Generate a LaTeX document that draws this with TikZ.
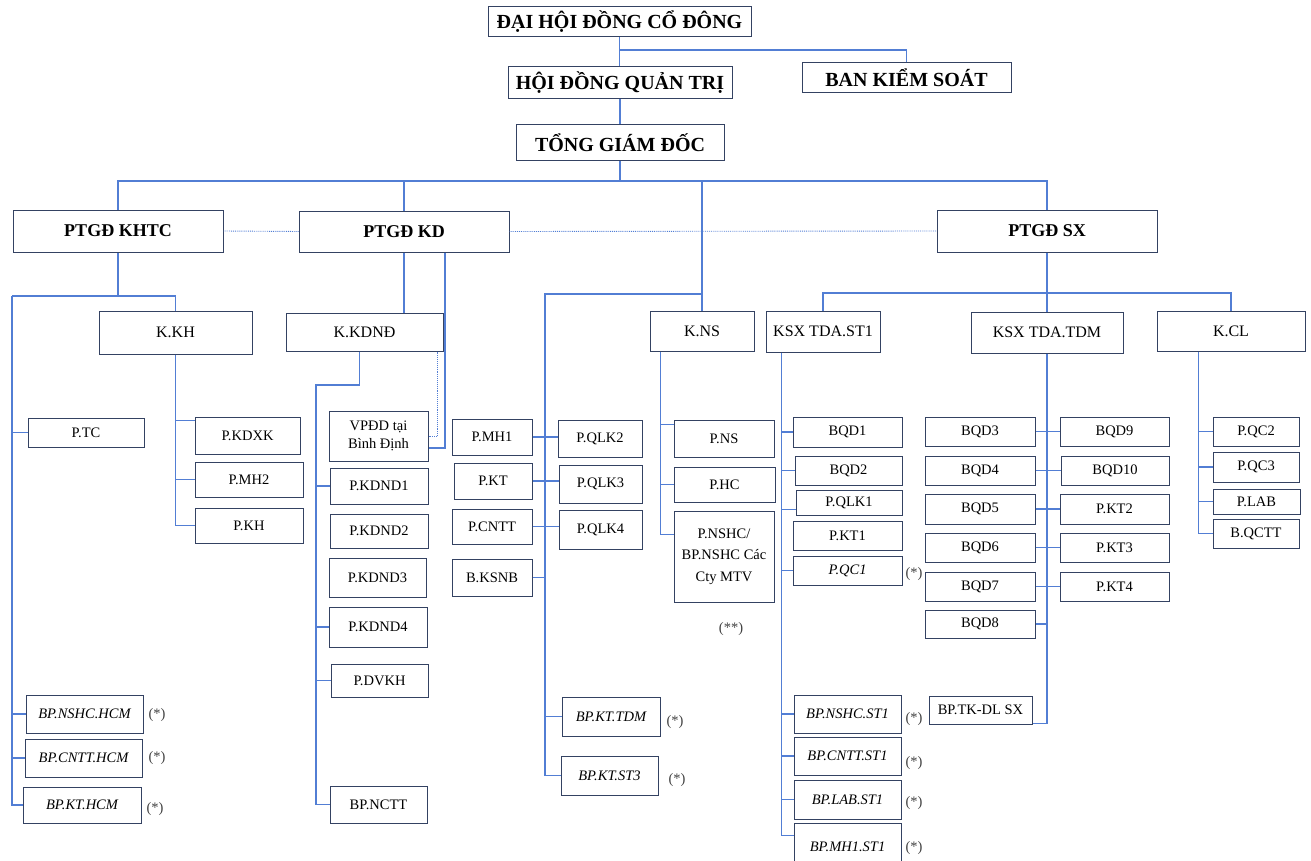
\documentclass[tikz,border=0pt]{standalone}
\usepackage{fontspec}
\setmainfont{Liberation Serif}
\usetikzlibrary{positioning,calc}
\definecolor{lnblue}{RGB}{82,126,212}
\definecolor{bxedge}{RGB}{52,66,98}

\begin{document}
\begin{tikzpicture}[
    x=1pt, y=-1pt,
    box/.style={draw=bxedge, line width=1pt, fill=white, align=center,
                inner sep=1pt, text=black},
    sz/.style 2 args={minimum width=#1pt, minimum height=#2pt},
    head/.style={box, font=\fontsize{20}{22}\selectfont\bfseries},
    dep/.style={box, font=\fontsize{18}{20}\selectfont\bfseries},
    khoi/.style={box, font=\fontsize{16}{18}\selectfont},
    phong/.style={box, font=\fontsize{14.5}{17.5}\selectfont},
    bpit/.style={box, font=\fontsize{14.5}{17.5}\selectfont\itshape},
    ln/.style={draw=lnblue, line width=1.1pt},
    dln/.style={draw=lnblue, line width=0.9pt, densely dotted},
    star/.style={font=\fontsize{14.5}{17}\selectfont, text=black!75, inner sep=0pt},
  ]
  \useasboundingbox (0,0) rectangle (1311,861);
  \clip (0,0) rectangle (1311,861);

  % ============ Cap lanh dao ============
  \node[head, sz={263}{30}] (dhcd) at (619.5,22) {ĐẠI HỘI ĐỒNG CỔ ĐÔNG};
  \node[head, sz={224}{32}] (hdqt) at (620,83) {HỘI ĐỒNG QUẢN TRỊ};
  \node[head, sz={209}{30}] (bks) at (906.5,78) {BAN KIỂM SOÁT};
  \node[head, sz={208}{36}] (tgd) at (620,143) {TỔNG GIÁM ĐỐC};

  \node[dep, sz={210}{42}] (khtc) at (118,231) {PTGĐ KHTC};
  \node[dep, sz={210}{41}] (kd) at (404,231.5) {PTGĐ KD};
  \node[dep, sz={220}{42}] (sx) at (1047,231) {PTGĐ SX};

  % ============ Cac khoi ============
  \node[khoi, sz={153}{43}] (kkh) at (175.5,332.5) {K.KH};
  \node[khoi, sz={157}{38}] (kkdnd) at (364.5,332) {K.KDNĐ};
  \node[khoi, sz={104}{40}] (kns) at (702,331) {K.NS};
  \node[khoi, sz={114}{41}] (kst1) at (823,331.5) {KSX TDA.ST1};
  \node[khoi, sz={152}{41}] (ktdm) at (1047,332.5) {KSX TDA.TDM};
  \node[khoi, sz={148}{40}] (kcl) at (1231,331) {K.CL};

  % ============ Khoi KH ============
  \node[phong, sz={116}{29}] (ptc) at (86,432.5) {P.TC};
  \node[phong, sz={105}{37}] (pkdxk) at (247.5,435.5) {P.KDXK};
  \node[phong, sz={108}{35}] (pmh2) at (249,479.5) {P.MH2};
  \node[phong, sz={108}{35}] (pkh) at (249,525.5) {P.KH};
  \node[bpit, sz={117}{38}] (nshcHCM) at (84.5,714) {BP.NSHC.HCM};
  \node[bpit, sz={117}{38}] (cnttHCM) at (83.5,758) {BP.CNTT.HCM};
  \node[bpit, sz={118}{36}] (ktHCM) at (82,805) {BP.KT.HCM};
  \node[star] at (157,715) {(*)};
  \node[star] at (157,758) {(*)};
  \node[star] at (155,809) {(*)};

  % ============ Khoi KDND ============
  \node[phong, sz={99}{50}] (vpdd) at (378.5,436) {VPĐD tại\\Bình Định};
  \node[phong, sz={98}{36}] (kdnd1) at (379,486) {P.KDND1};
  \node[phong, sz={98}{34}] (kdnd2) at (379,531) {P.KDND2};
  \node[phong, sz={97}{39}] (kdnd3) at (377.5,577.5) {P.KDND3};
  \node[phong, sz={98}{40}] (kdnd4) at (378,627) {P.KDND4};
  \node[phong, sz={97}{33}] (dvkh) at (379.5,680.5) {P.DVKH};
  \node[phong, sz={97}{37}] (bpnctt) at (378.5,804.5) {BP.NCTT};

  % ============ Truc thuoc TGD ============
  \node[phong, sz={80}{36}] (pmh1) at (492,437) {P.MH1};
  \node[phong, sz={78}{36}] (pkt) at (493,481) {P.KT};
  \node[phong, sz={80}{35}] (pcntt) at (492,526.5) {P.CNTT};
  \node[phong, sz={80}{37}] (bksnb) at (492,577.5) {B.KSNB};
  \node[phong, sz={84}{37}] (qlk2) at (600,438.5) {P.QLK2};
  \node[phong, sz={83}{38}] (qlk3) at (600.5,484) {P.QLK3};
  \node[phong, sz={83}{39}] (qlk4) at (600.5,529.5) {P.QLK4};
  \node[bpit, sz={98}{39}] (ktTDM) at (611,716.5) {BP.KT.TDM};
  \node[bpit, sz={97}{39}] (ktST3) at (609.5,775.5) {BP.KT.ST3};
  \node[star] at (675,722) {(*)};
  \node[star] at (677,780) {(*)};

  % ============ Khoi NS ============
  \node[phong, sz={100}{37}] (pns) at (724,438.5) {P.NS};
  \node[phong, sz={101}{35}] (phc) at (724.5,484.5) {P.HC};
  \node[phong, sz={100}{91}, font=\fontsize{14.5}{21.5}\selectfont] (pnshc) at (724,556.5)
        {P.NSHC/\\BP.NSHC Các\\Cty MTV};
  \node[star] at (731,629) {(**)};

  % ============ Khoi SX ST1 ============
  \node[phong, sz={109}{30}] (bqd1) at (847.5,432) {BQD1};
  \node[phong, sz={107}{29}] (bqd2) at (848.5,470.5) {BQD2};
  \node[phong, sz={106}{25}] (pqlk1) at (849,502.5) {P.QLK1};
  \node[phong, sz={109}{29}] (pkt1) at (847.5,535.5) {P.KT1};
  \node[bpit, sz={109}{29}] (pqc1) at (847.5,570.5) {P.QC1};
  \node[bpit, sz={107}{38}] (nshcST1) at (847.5,714) {BP.NSHC.ST1};
  \node[bpit, sz={107}{38}] (cnttST1) at (847.5,756) {BP.CNTT.ST1};
  \node[bpit, sz={107}{39}] (labST1) at (847.5,799.5) {BP.LAB.ST1};
  \node[bpit, sz={107}{47}] (mh1ST1) at (847.5,846.5) {BP.MH1.ST1};
  \node[star] at (914,574) {(*)};
  \node[star] at (914,719) {(*)};
  \node[star] at (914,763) {(*)};
  \node[star] at (914,803) {(*)};
  \node[star] at (914,848) {(*)};

  % ============ Khoi SX TDM ============
  \node[phong, sz={110}{29}] (bqd3) at (980,431.5) {BQD3};
  \node[phong, sz={110}{29}] (bqd4) at (980,470.5) {BQD4};
  \node[phong, sz={110}{30}] (bqd5) at (980,509) {BQD5};
  \node[phong, sz={110}{29}] (bqd6) at (980,547.5) {BQD6};
  \node[phong, sz={110}{29}] (bqd7) at (980,586.5) {BQD7};
  \node[phong, sz={110}{28}] (bqd8) at (980,624) {BQD8};
  \node[phong, sz={109}{29}] (bqd9) at (1114.5,431.5) {BQD9};
  \node[phong, sz={108}{29}] (bqd10) at (1115,470.5) {BQD10};
  \node[phong, sz={109}{30}] (pkt2) at (1114.5,509) {P.KT2};
  \node[phong, sz={109}{29}] (pkt3) at (1114.5,547.5) {P.KT3};
  \node[phong, sz={109}{29}] (pkt4) at (1114.5,586.5) {P.KT4};
  \node[phong, sz={103}{28}] (tkdl) at (980.5,710) {BP.TK-DL SX};

  % ============ Khoi CL ============
  \node[phong, sz={86}{29}] (pqc2) at (1256,431.5) {P.QC2};
  \node[phong, sz={86}{30}] (pqc3) at (1256,467) {P.QC3};
  \node[phong, sz={87}{25}] (plab) at (1256.5,501.5) {P.LAB};
  \node[phong, sz={86}{29}] (bqctt) at (1256,533.5) {B.QCTT};

  % ============ Duong noi cap tren ============
  \coordinate (jBKS) at (620,50);
  \coordinate (jTGD) at (620,181);
  \draw[ln] (dhcd.south) -- (dhcd.south |- hdqt.north);
  \draw[ln] (jBKS) -| (bks.north);
  \draw[ln] (hdqt.south) -- (tgd.north);
  \draw[ln] (tgd.south) -- (jTGD);
  \draw[ln] (khtc.north) |- (jTGD) -| (sx.north);
  \draw[ln] (kd.north) -- (kd.north |- jTGD);
  \draw[ln] (kns.north |- jTGD) -- (kns.north);
  \draw[dln] (khtc.east) -- (kd.west);
  \draw[dln] (kd.east) -- (sx.west);

  % ============ Nhanh KHTC ============
  \coordinate (jKH) at (12,296);
  \draw[ln] (khtc.south) -- (khtc.south |- jKH);
  \draw[ln] (jKH) -| (kkh.north);
  \draw[ln] (jKH) |- (ktHCM.west);
  \draw[ln] (jKH |- ptc.west) -- (ptc.west);
  \draw[ln] (jKH |- nshcHCM.west) -- (nshcHCM.west);
  \draw[ln] (jKH |- cnttHCM.west) -- (cnttHCM.west);
  \coordinate (tKDXK) at ([yshift=-4pt]pkdxk.north west);
  \draw[ln] (kkh.south) |- (pkh.west);
  \draw[ln] (kkh.south |- tKDXK) -- (tKDXK);
  \draw[ln] (kkh.south |- pmh2.west) -- (pmh2.west);

  % ============ Nhanh KD ============
  \coordinate (kdR) at ([xshift=41pt]kd.south);
  \coordinate (tVP) at ([yshift=-12pt]vpdd.east);
  \coordinate (jKD) at (316,385);
  \draw[ln] (kd.south) -- (kd.south |- kkdnd.north);
  \draw[ln] (kdR) |- (tVP);
  \draw[dln] ([xshift=-6pt]kkdnd.south east) |- (vpdd.east);
  \draw[ln] ([xshift=-5pt]kkdnd.south) |- (jKD) |- (bpnctt.west);
  \draw[ln] (jKD |- kdnd1.west) -- (kdnd1.west);
  \draw[ln] (jKD |- kdnd4.west) -- (kdnd4.west);
  \draw[ln] (jKD |- dvkh.west) -- (dvkh.west);

  % ============ Truc thuoc TGD ============
  \coordinate (jNS) at (545,294);
  \draw[ln] (kns.north |- jNS) -- (jNS) |- (ktST3.west);
  \draw[ln] (pmh1.east) -- (pmh1.east -| qlk2.west);
  \draw[ln] (pkt.east) -- (pkt.east -| qlk3.west);
  \draw[ln] (pcntt.east) -- (pcntt.east -| qlk4.west);
  \draw[ln] (bksnb.east) -- (bksnb.east -| jNS);
  \draw[ln] (jNS |- ktTDM.west) -- (ktTDM.west);

  \coordinate (kNSl) at ([xshift=11pt]kns.south west);
  \coordinate (tNS) at ([yshift=-5pt]pns.north west);
  \coordinate (tNSHC) at ([yshift=-24pt]pnshc.north west);
  \draw[ln] (kNSl) |- (tNSHC);
  \draw[ln] (kNSl |- tNS) -- (tNS);
  \draw[ln] (kNSl |- phc.west) -- (phc.west);

  % ============ Nhanh SX ============
  \coordinate (jSX) at (1047,293);
  \draw[ln] (sx.south) -- (jSX);
  \draw[ln] (kst1.north) |- (jSX) -| (kcl.north);
  \draw[ln] (jSX) -- (ktdm.north);

  \coordinate (kSTl) at ([xshift=16pt]kst1.south west);
  \coordinate (tQLK1) at ([yshift=6pt]pqlk1.south west);
  \coordinate (tMH1) at ([yshift=-13pt]mh1ST1.north west);
  \draw[ln] (kSTl) |- (tMH1);
  \draw[ln] (kSTl |- bqd1.west) -- (bqd1.west);
  \draw[ln] (kSTl |- bqd2.west) -- (bqd2.west);
  \draw[ln] (kSTl |- tQLK1) -- (tQLK1);
  \draw[ln] (kSTl |- pqc1.west) -- (pqc1.west);
  \draw[ln] (kSTl |- nshcST1.west) -- (nshcST1.west);
  \draw[ln] (kSTl |- cnttST1.west) -- (cnttST1.west);
  \draw[ln] (kSTl |- labST1.west) -- (labST1.west);

  \draw[ln] (ktdm.south) |- ([yshift=1pt]tkdl.south east);
  \draw[ln] (bqd3.east) -- (bqd9.west);
  \draw[ln] (bqd4.east) -- (bqd10.west);
  \draw[ln] (bqd5.east) -- (pkt2.west);
  \draw[ln] (bqd6.east) -- (pkt3.west);
  \draw[ln] (bqd7.east) -- (pkt4.west);
  \draw[ln] (bqd8.east) -- (bqd8.east -| ktdm.south);

  \coordinate (kCLl) at ([xshift=42pt]kcl.south west);
  \draw[ln] (kCLl) |- (bqctt.west);
  \draw[ln] (kCLl |- pqc2.west) -- (pqc2.west);
  \draw[ln] (kCLl |- pqc3.west) -- (pqc3.west);
  \draw[ln] (kCLl |- plab.west) -- (plab.west);

\end{tikzpicture}
\end{document}
